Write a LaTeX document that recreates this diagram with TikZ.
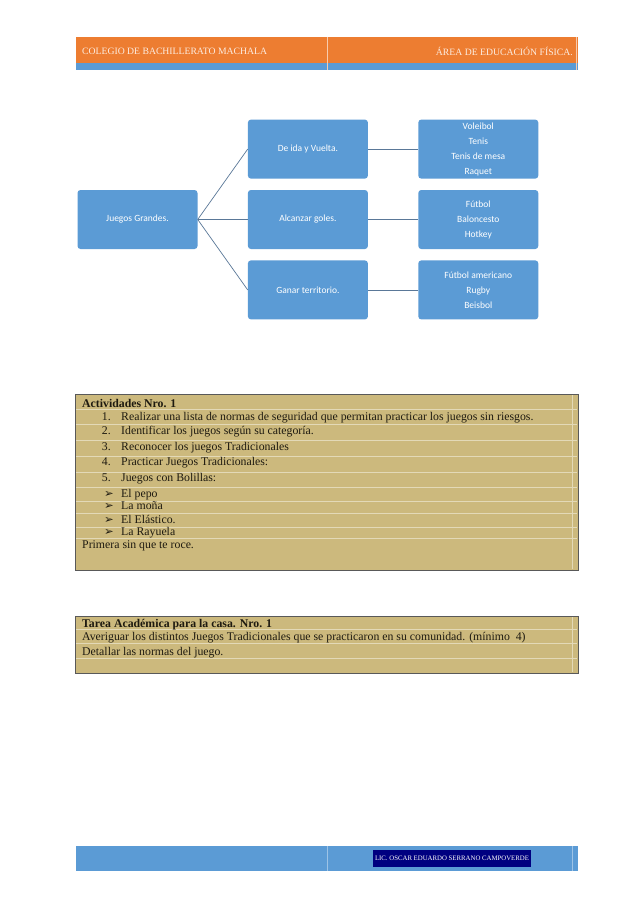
\documentclass[tikz,border=0pt]{standalone}
\usepackage{fontspec}
\setmainfont{Liberation Serif}
\newfontfamily\boxfont{Carlito}
\newfontfamily\symfont{DejaVu Sans}
\usepackage{tikz}
\usetikzlibrary{positioning}
\definecolor{hdorange}{HTML}{ED7D31}
\definecolor{hdblue}{HTML}{5B9BD5}
\definecolor{tantab}{HTML}{CCB97D}
\definecolor{linkgray}{HTML}{5A7898}
\definecolor{navyhl}{HTML}{000080}
\definecolor{inkdark}{HTML}{1E1A10}

\begin{document}
\begin{tikzpicture}[x=1pt, y=-1pt, node distance=11pt and 50pt,
        every node/.style={inner sep=0pt},
        blk/.style={fill=hdblue, rounded corners=3pt, minimum width=120pt, minimum height=59pt, text=white, font=\boxfont\fontsize{9.5}{15}\selectfont, align=center},
        link/.style={draw=linkgray, line width=0.7pt},
        tabla/.style={draw=black!65, line width=0.9pt, fill=tantab, anchor=north west, minimum width=503pt},
        row/.style={anchor=base west, text=inkdark, font=\fontsize{11.8}{13}\selectfont},
        num/.style={anchor=base east, text=inkdark, font=\fontsize{11.8}{13}\selectfont},
        bullet/.style={anchor=base west, text=inkdark, font=\symfont\fontsize{11.5}{12}\selectfont},
        rule/.style={draw=white!45!tantab, line width=0.5pt}]
        \fill[white] (0,0) rectangle (638,903);
        \useasboundingbox (0,0) rectangle (638,903);
        \fill[hdorange] (76,37) rectangle (578,63);
        \fill[hdblue] (76,63) rectangle (578,70);
        \draw[white!60!hdorange, line width=0.5pt] (327,37) -- (327,70);
        \draw[white!60!hdorange, line width=0.5pt] (576,37) -- (576,70);
        \node[anchor=west, text=white!85!hdorange, font=\fontsize{9.7}{10}\selectfont] (colegio) at (82,51) {COLEGIO DE BACHILLERATO MACHALA};
        \node[anchor=east, text=white!85!hdorange, font=\fontsize{9.7}{10}\selectfont] (area) at (573,51) {ÁREA DE EDUCACIÓN FÍSICA.};
        \node[blk] (grandes) at (137.5,219.5) {Juegos Grandes.};
        \node[blk, right=of grandes] (goles) {Alcanzar goles.};
        \node[blk, above=of goles] (vuelta) {De ida y Vuelta.};
        \node[blk, below=of goles] (territorio) {Ganar territorio.};
        \node[blk, right=of vuelta] (raquetas) {Voleibol\\Tenis\\Tenis de mesa\\Raquet};
        \node[blk, right=of goles] (balones) {Fútbol\\Baloncesto\\Hotkey};
        \node[blk, right=of territorio] (campo) {Fútbol americano\\Rugby\\Beisbol};
        \draw[link] (grandes.east) -- (vuelta.west);
        \draw[link] (grandes.east) -- (goles.west);
        \draw[link] (grandes.east) -- (territorio.west);
        \draw[link] (vuelta) -- (raquetas);
        \draw[link] (goles) -- (balones);
        \draw[link] (territorio) -- (campo);
        \node[tabla, minimum height=176pt] (actividades) at (75,394) {};
        \foreach \y in {409,424,440,456,472,487,501,513,527,538}
            \draw[rule] (76,\y) -- (577,\y);
        \draw[rule] (572,395) -- (572,569);
        \node[row, font=\bfseries\fontsize{11.8}{13}\selectfont] (titact) at (82,407) {Actividades Nro. 1};
        \node[num] (n1) at (111,420) {1.};
        \node[row] (a1) at (121,420) {Realizar una lista de normas de seguridad que permitan practicar los juegos sin riesgos.};
        \node[num] (n2) at (111,434) {2.};
        \node[row] (a2) at (121,434) {Identificar los juegos según su categoría.};
        \node[num] (n3) at (111,450) {3.};
        \node[row] (a3) at (121,450) {Reconocer los juegos Tradicionales};
        \node[num] (n4) at (111,465) {4.};
        \node[row] (a4) at (121,465) {Practicar Juegos Tradicionales:};
        \node[num] (n5) at (111,481) {5.};
        \node[row] (a5) at (121,481) {Juegos con Bolillas:};
        \node[bullet] (b1) at (104,497) {➢};
        \node[row] (c1) at (121,497) {El pepo};
        \node[bullet] (b2) at (104,509) {➢};
        \node[row] (c2) at (121,509) {La moña};
        \node[bullet] (b3) at (104,523) {➢};
        \node[row] (c3) at (121,523) {El Elástico.};
        \node[bullet] (b4) at (104,535) {➢};
        \node[row] (c4) at (121,535) {La Rayuela};
        \node[row] (primera) at (82,548) {Primera sin que te roce.};
        \node[tabla, minimum height=57pt] (tarea) at (75,616) {};
        \foreach \y in {629,643,658}
            \draw[rule] (76,\y) -- (577,\y);
        \draw[rule] (572,617) -- (572,672);
        \node[row, font=\bfseries\fontsize{11.8}{13}\selectfont] (tittarea) at (82,627) {Tarea Académica para la casa. Nro. 1};
        \node[row] (t1) at (82,640) {Averiguar los distintos Juegos Tradicionales que se practicaron en su comunidad. (mínimo~ 4)};
        \node[row] (t2) at (82,655) {Detallar las normas del juego.};
        \fill[hdblue] (76,846) rectangle (578,871);
        \draw[white!40!hdblue, line width=0.5pt] (327,846) -- (327,871);
        \draw[white!40!hdblue, line width=0.5pt] (572,846) -- (572,871);
        \node[fill=navyhl, text=white, font=\fontsize{6.8}{7}\selectfont, minimum width=158pt, minimum height=17pt] (autor) at (452,858.5) {LIC. OSCAR EDUARDO SERRANO CAMPOVERDE};
    \end{tikzpicture}
\end{document}
